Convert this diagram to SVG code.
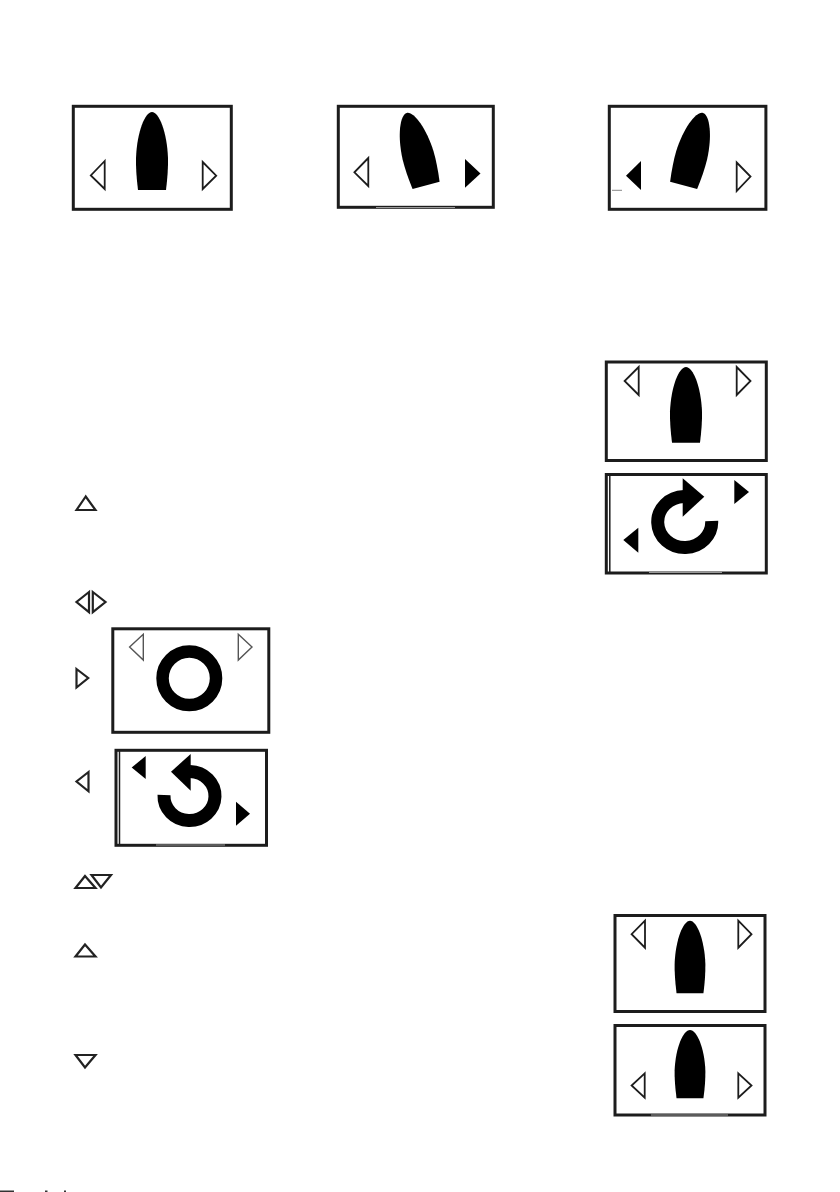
<svg xmlns="http://www.w3.org/2000/svg" width="840" height="1192" viewBox="0 0 840 1192">
<style>
.frame{fill:#fff;stroke:#1c1c1c;stroke-width:3}
.open{fill:#fff;stroke:#1c1c1c;stroke-width:1.8}
.pale{fill:#fff;stroke:#555;stroke-width:1.4}
.solid{fill:#000;stroke:none}
.icon{fill:#fff;stroke:#222;stroke-width:2.2}
.ring{fill:none;stroke:#000;stroke-width:13}
.thin{fill:none;stroke:#1c1c1c;stroke-width:1.5}
.fade{fill:none;stroke:#999;stroke-width:1.2}
</style>
<defs>
<path id="boat" d="M-14,78C-15.5,66-16.2,55-16,46C-15,20-7,0 0,0C7,0 15,20 16,46C16.2,55 15.5,66 14,78Z"/>
</defs>
<rect width="840" height="1192" fill="#fff"/>
<g id="panel-1">
<rect class="frame" x="73.3" y="106.3" width="158" height="103"/>
<use href="#boat" x="152" y="112"/>
<path class="open" d="M104.7,161L90.8,175.5L104.7,189Z"/>
<path class="open" d="M202.7,162L216.2,175.7L202.7,189Z"/>
</g>
<g id="panel-2">
<rect class="frame" x="338.3" y="106.3" width="155" height="101"/>
<use href="#boat" transform="translate(406.7 113) rotate(-15) scale(1 .96)"/>
<path class="open" d="M368.3,158L354.4,172.3L368.3,186Z"/>
<path class="solid" d="M465,159L480.5,173.5L465,187.7Z"/>
<path class="fade" d="M376,207.5H455"/>
</g>
<g id="panel-3">
<rect class="frame" x="609.3" y="106.3" width="156.6" height="103"/>
<use href="#boat" transform="translate(703 113) rotate(15) scale(1 .96)"/>
<path class="solid" d="M641,161L626,175.7L641,190Z"/>
<path class="open" d="M736.7,162.5L750.5,176.5L736.7,191Z"/>
<path d="M612,190.3H622" stroke="#888" stroke-width="1"/>
</g>
<g id="panel-4">
<rect class="frame" x="606.3" y="362" width="160" height="98.5"/>
<use href="#boat" transform="translate(686 367) scale(1 .97)"/>
<path class="open" d="M638.7,367L624.6,381L638.7,395Z"/>
<path class="open" d="M736.7,367L750.5,381L736.7,395Z"/>
</g>
<g id="panel-5">
<rect class="frame" x="606.3" y="474.5" width="160" height="98.5"/>
<path d="M609.8,475V572" class="thin"/>
<path class="ring" d="M711.7,521A27,25.5 0 1 1 684,496.5"/>
<path class="solid" d="M682.7,478.3L704.3,496.7L682.7,516.7Z"/>
<path class="solid" d="M734.3,480L749,492L734.3,504Z"/>
<path class="solid" d="M638.3,527.7L623.3,540L638.3,552.7Z"/>
<path class="fade" d="M649,572.5H722"/>
</g>
<g id="panel-6">
<rect class="frame" x="112.8" y="628.8" width="156" height="103.5"/>
<circle cx="189.3" cy="678.3" r="26.75" fill="none" stroke="#000" stroke-width="12.5"/>
<path class="pale" d="M143.3,634.3L129.6,647L143.3,660Z"/>
<path class="pale" d="M238.3,634.3L252,647L238.3,660Z"/>
</g>
<g id="panel-7">
<rect class="frame" x="116" y="750.3" width="150.5" height="95"/>
<path d="M119.5,751V844" class="thin"/>
<path class="ring" d="M164,795A25.5,24.5 0 1 0 190,771.5"/>
<path class="solid" d="M171,771.7L190.7,754V790.7Z"/>
<path class="solid" d="M145.7,756L131.7,767.5L145.7,779Z"/>
<path class="solid" d="M236,801.7L250,813.7L236,825.7Z"/>
<path class="fade" d="M156,845H225"/>
</g>
<g id="panel-8">
<rect class="frame" x="615" y="915.5" width="150" height="96"/>
<use href="#boat" transform="translate(690 920.7) scale(.96 .93)"/>
<path class="open" d="M645,920.7L631.6,934.2L645,947.7Z"/>
<path class="open" d="M738.3,920.7L751.5,934.2L738.3,947.7Z"/>
</g>
<g id="panel-9">
<rect class="frame" x="615" y="1025.5" width="150" height="89.5"/>
<use href="#boat" transform="translate(690 1030) scale(.96 .875)"/>
<path class="open" d="M644.7,1073.3L631.6,1085.5L644.7,1097.7Z"/>
<path class="open" d="M738.3,1073.3L751.5,1085.5L738.3,1097.7Z"/>
<path class="fade" d="M651,1115H728"/>
</g>
<g id="icons">
<path class="icon" d="M85.7,496.5L76.5,510H95.5Z"/>
<path class="icon" d="M89,592L76.5,602L89,612.2Z"/>
<path class="icon" d="M92.8,592L105.5,602L92.8,612.2Z"/>
<path class="icon" d="M76.5,669L88.2,678L76.5,687.5Z"/>
<path class="icon" d="M88.5,772L76.5,781.5L88.5,791.3Z"/>
<path class="icon" d="M85,876L75.5,888H95.5Z"/>
<path class="icon" d="M91.5,875H111L101,887.5Z"/>
<path class="icon" d="M85,944.5L75.5,956.5H95.5Z"/>
<path class="icon" d="M75.5,1055H95.5L85,1067.5Z"/>
</g>
<g id="page-edge" fill="#333">
<rect x="0" y="1190.5" width="14" height="1.5"/>
<rect x="45" y="1190.5" width="2.5" height="1.5"/>
<rect x="64" y="1190.5" width="2" height="1.5"/>
</g>
</svg>
